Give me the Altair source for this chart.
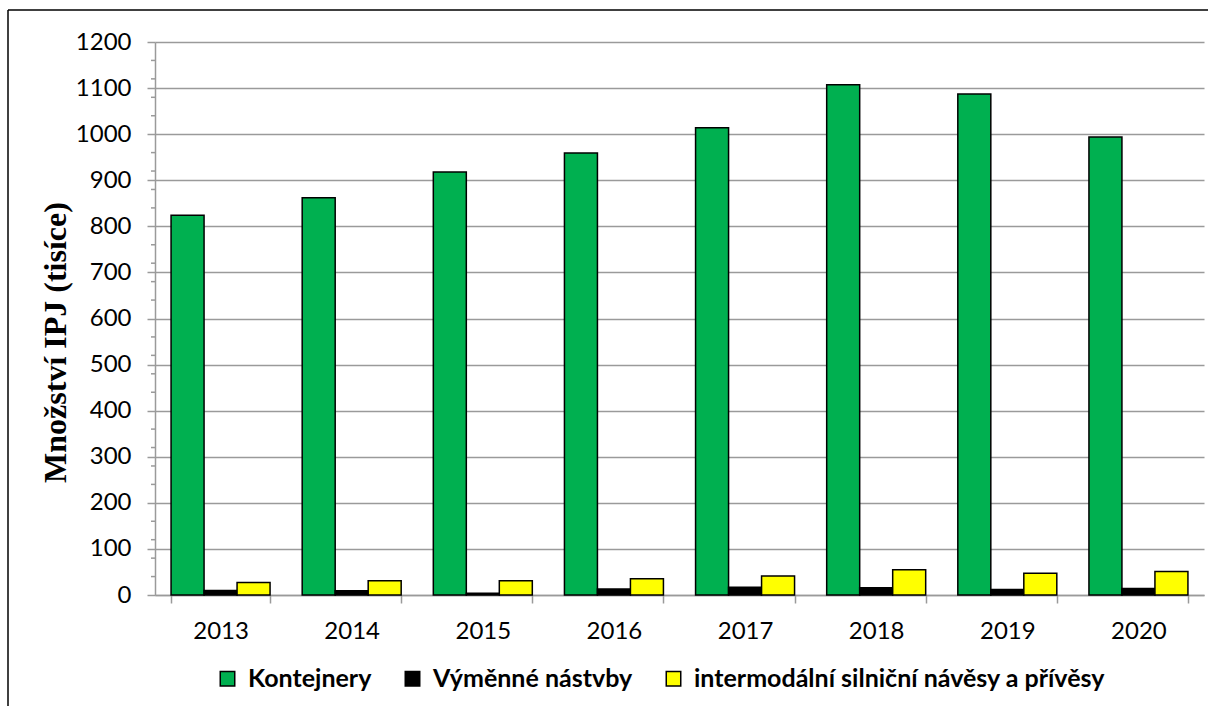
import altair as alt
import pandas as pd

years = ["2013", "2014", "2015", "2016", "2017", "2018", "2019", "2020"]
kontejnery = [824, 862, 918, 959, 1014, 1107, 1087, 994]
vymenne = [10, 9, 4, 13, 17, 16, 12, 14]
intermodalni = [27, 31, 31, 35, 41, 55, 47, 51]

series_names = ["Kontejnery", "Výměnné nástvby", "intermodální silniční návěsy a přívěsy"]
series_colors = ["#00B050", "#000000", "#FFFF00"]
y_ticks = list(range(0, 1201, 100))
minor_ticks = [v for v in range(0, 1201, 40) if v % 100 != 0]

rows = []
for i, yr in enumerate(years):
    for name, vals in zip(series_names, [kontejnery, vymenne, intermodalni]):
        rows.append({"year": yr, "series": name, "value": vals[i]})
df = pd.DataFrame(rows)

GRID = "#9a9a9a"

bars = alt.Chart(df).mark_bar(stroke="black", strokeWidth=1.5).encode(
    x=alt.X(
        "year:N",
        sort=years,
        scale=alt.Scale(paddingInner=0.245, paddingOuter=0.1225),
        axis=alt.Axis(
            title=None,
            labelAngle=0,
            labelFont="Lato",
            labelFontSize=24,
            labelColor="black",
            labelPadding=16,
            tickBand="extent",
            tickSize=8,
            tickColor=GRID,
            tickWidth=1.5,
            domainColor=GRID,
            domainWidth=1.5,
            grid=False,
        ),
    ),
    xOffset=alt.XOffset("series:N", sort=series_names,
                        scale=alt.Scale(paddingInner=0, paddingOuter=0)),
    y=alt.Y(
        "value:Q",
        scale=alt.Scale(domain=[0, 1200], nice=False),
        axis=alt.Axis(
            title="Množství IPJ (tisíce)",
            titleFont="Liberation Serif",
            titleFontWeight="bold",
            titleFontSize=32,
            titleColor="black",
            titleAngle=270,
            titleX=-100,
            titleY=300,
            titleBaseline="middle",
            titleAlign="center",
            values=y_ticks,
            format="d",
            labelFont="Lato",
            labelFontSize=24,
            labelColor="black",
            labelPadding=16,
            tickSize=8,
            tickColor=GRID,
            tickWidth=1.5,
            domainColor=GRID,
            domainWidth=1.5,
            grid=True,
            gridColor=GRID,
            gridWidth=1.5,
        ),
    ),
    color=alt.Color(
        "series:N",
        sort=series_names,
        scale=alt.Scale(domain=series_names, range=series_colors),
        legend=alt.Legend(
            title=None,
            orient="none",
            legendX=60,
            legendY=624,
            direction="horizontal",
            symbolType="square",
            symbolSize=210,
            symbolStrokeColor="black",
            symbolStrokeWidth=1.5,
            symbolOpacity=1,
            labelFont="Lato",
            labelFontWeight="bold",
            labelFontSize=25,
            labelColor="black",
            labelLimit=800,
            labelOffset=8,
            columnPadding=28,
        ),
    ),
)

minor = alt.Chart(pd.DataFrame({"v": minor_ticks})).mark_rule(
    color=GRID, strokeWidth=1.5
).encode(
    y=alt.Y("v:Q"),
    x=alt.value(-4),
    x2=alt.value(0),
)

frame_one = pd.DataFrame({"a": [0]})
border_left = alt.Chart(frame_one).mark_rule(color="black", strokeWidth=1.5).encode(
    x=alt.value(-147), y=alt.value(-32), y2=alt.value(700)
)
border_top = alt.Chart(frame_one).mark_rule(color="black", strokeWidth=1.5).encode(
    x=alt.value(-147), x2=alt.value(1100), y=alt.value(-32)
)

chart = alt.layer(bars, minor, border_left, border_top).properties(
    width=1049,
    height=553,
    autosize=alt.AutoSizeParams(type="none"),
    padding={"left": 155, "top": 42, "right": 4, "bottom": 111},
    background="white",
).configure_view(stroke=None)

chart.save("out.html", embed_options={"renderer": "svg", "actions": False})
